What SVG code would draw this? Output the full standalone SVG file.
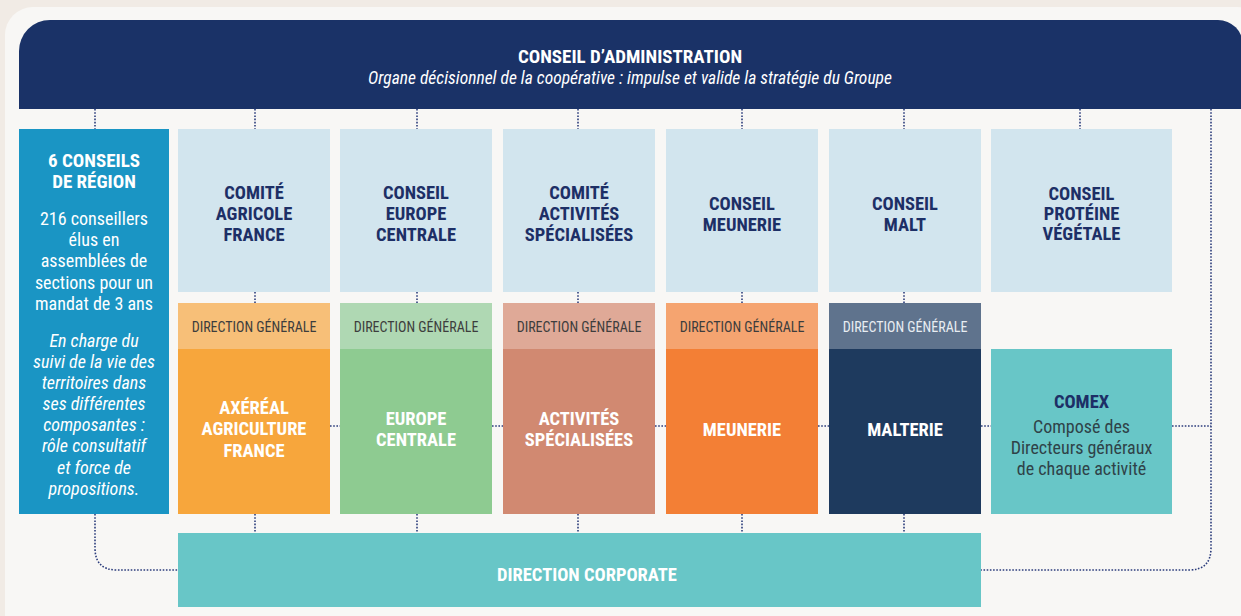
<svg xmlns="http://www.w3.org/2000/svg" width="1241" height="616" viewBox="0 0 1241 616">
<style>
text{font-family:"Liberation Sans Narrow","Roboto Condensed","Liberation Sans",Arial,sans-serif;text-anchor:middle}
.t{font-weight:bold;font-size:18.5px;fill:#1d2f66}
.w{font-weight:bold;font-size:18.5px;fill:#ffffff}
.dg{font-size:14px;fill:#3d3d3d}
.b{font-size:18px;fill:#ffffff}
.bi{font-size:18px;fill:#ffffff;font-style:italic}
.c{font-size:18px;fill:#2f4248}
.con{fill:none;stroke:#2c3d7c;stroke-width:1.6;stroke-dasharray:1.6 1.6}
</style>
<rect x="0" y="0" width="1241" height="616" fill="#f1ebe5"/>
<rect x="5" y="7" width="1260" height="640" rx="28" fill="#f8f7f5"/>

<g id="connectors">
<path class="con" d="M95,109V129M255,109V129M417,109V129M578,109V129M742,109V129M904,109V129M1080,109V129"/>
<path class="con" d="M255,292V303M417,292V303M578,292V303M742,292V303M904,292V303"/>
<path class="con" d="M255,514V533M417,514V533M578,514V533M742,514V533M904,514V533"/>
<path class="con" d="M330,426H340M492,426H503M655,426H666M818,426H829M981,426H991M1172,426H1211"/>
<path class="con" d="M95,514V548Q95,570 117,570H178"/>
<path class="con" d="M1211,109V548Q1211,570 1189,570H981"/>
</g>

<g id="conseil-administration">
<path d="M19,109V51A31,31 0 0 1 50,20H1218A25,25 0 0 1 1243,45V109Z" fill="#1a3267"/>
<text x="630" y="63" style="font-weight:bold;font-size:19px;fill:#ffffff">CONSEIL D’ADMINISTRATION</text>
<text x="630" y="84" style="font-style:italic;font-size:17.5px;fill:#ffffff">Organe décisionnel de la coopérative : impulse et valide la stratégie du Groupe</text>
</g>

<g id="conseils-region">
<rect x="19" y="129" width="150" height="385" fill="#1a95c4"/>
<text class="w" x="94" y="167" style="font-size:19px">6 CONSEILS</text>
<text class="w" x="94" y="188" style="font-size:19px">DE RÉGION</text>
<text class="b" x="94" y="225">216 conseillers</text>
<text class="b" x="94" y="246">élus en</text>
<text class="b" x="94" y="267">assemblées de</text>
<text class="b" x="94" y="289">sections pour un</text>
<text class="b" x="94" y="310">mandat de 3 ans</text>
<text class="bi" x="94" y="347">En charge du</text>
<text class="bi" x="94" y="368">suivi de la vie des</text>
<text class="bi" x="94" y="389">territoires dans</text>
<text class="bi" x="94" y="410">ses différentes</text>
<text class="bi" x="94" y="431">composantes :</text>
<text class="bi" x="94" y="452">rôle consultatif</text>
<text class="bi" x="94" y="474">et force de</text>
<text class="bi" x="94" y="495">propositions.</text>
</g>

<g id="comite-agricole-france">
<rect x="178" y="129" width="152" height="163" fill="#d2e5ee"/>
<text class="t" x="254" y="198.5">COMITÉ</text>
<text class="t" x="254" y="219.5">AGRICOLE</text>
<text class="t" x="254" y="240.5">FRANCE</text>
</g>
<g id="conseil-europe-centrale">
<rect x="340" y="129" width="152" height="163" fill="#d2e5ee"/>
<text class="t" x="416" y="198.5">CONSEIL</text>
<text class="t" x="416" y="219.5">EUROPE</text>
<text class="t" x="416" y="240.5">CENTRALE</text>
</g>
<g id="comite-activites-specialisees">
<rect x="503" y="129" width="152" height="163" fill="#d2e5ee"/>
<text class="t" x="579" y="198.5">COMITÉ</text>
<text class="t" x="579" y="219.5">ACTIVITÉS</text>
<text class="t" x="579" y="240.5">SPÉCIALISÉES</text>
</g>
<g id="conseil-meunerie">
<rect x="666" y="129" width="152" height="163" fill="#d2e5ee"/>
<text class="t" x="742" y="209.5">CONSEIL</text>
<text class="t" x="742" y="230.5">MEUNERIE</text>
</g>
<g id="conseil-malt">
<rect x="829" y="129" width="152" height="163" fill="#d2e5ee"/>
<text class="t" x="905" y="209.5">CONSEIL</text>
<text class="t" x="905" y="230.5">MALT</text>
</g>
<g id="conseil-proteine-vegetale">
<rect x="991" y="129" width="181" height="163" fill="#d2e5ee"/>
<text class="t" x="1081.5" y="200">CONSEIL</text>
<text class="t" x="1081.5" y="220">PROTÉINE</text>
<text class="t" x="1081.5" y="240">VÉGÉTALE</text>
</g>

<g id="axereal-agriculture-france">
<rect x="178" y="303" width="152" height="46" fill="#f7bf78"/>
<rect x="178" y="349" width="152" height="165" fill="#f7a63c"/>
<text class="dg" x="254" y="332">DIRECTION GÉNÉRALE</text>
<text class="w" x="254" y="413.5">AXÉRÉAL</text>
<text class="w" x="254" y="435">AGRICULTURE</text>
<text class="w" x="254" y="456.5">FRANCE</text>
</g>
<g id="europe-centrale">
<rect x="340" y="303" width="152" height="46" fill="#afd8b3"/>
<rect x="340" y="349" width="152" height="165" fill="#8ecb91"/>
<text class="dg" x="416" y="332">DIRECTION GÉNÉRALE</text>
<text class="w" x="416" y="424.5">EUROPE</text>
<text class="w" x="416" y="445.5">CENTRALE</text>
</g>
<g id="activites-specialisees">
<rect x="503" y="303" width="152" height="46" fill="#dfa997"/>
<rect x="503" y="349" width="152" height="165" fill="#d18971"/>
<text class="dg" x="579" y="332">DIRECTION GÉNÉRALE</text>
<text class="w" x="579" y="424.5">ACTIVITÉS</text>
<text class="w" x="579" y="446">SPÉCIALISÉES</text>
</g>
<g id="meunerie">
<rect x="666" y="303" width="152" height="46" fill="#f5a470"/>
<rect x="666" y="349" width="152" height="165" fill="#f37f35"/>
<text class="dg" x="742" y="332">DIRECTION GÉNÉRALE</text>
<text class="w" x="742" y="435.5">MEUNERIE</text>
</g>
<g id="malterie">
<rect x="829" y="303" width="152" height="46" fill="#5f738d"/>
<rect x="829" y="349" width="152" height="165" fill="#1e3a5e"/>
<text class="dg" x="905" y="332" style="fill:#e8edf2">DIRECTION GÉNÉRALE</text>
<text class="w" x="905" y="435.5">MALTERIE</text>
</g>
<g id="comex">
<rect x="991" y="349" width="181" height="165" fill="#68c6c7"/>
<text class="t" x="1081.5" y="407.5">COMEX</text>
<text class="c" x="1081.5" y="433">Composé des</text>
<text class="c" x="1081.5" y="454">Directeurs généraux</text>
<text class="c" x="1081.5" y="475">de chaque activité</text>
</g>
<g id="direction-corporate">
<rect x="178" y="533" width="803" height="74" fill="#68c6c7"/>
<text class="w" x="587" y="580.5">DIRECTION CORPORATE</text>
</g>
</svg>
